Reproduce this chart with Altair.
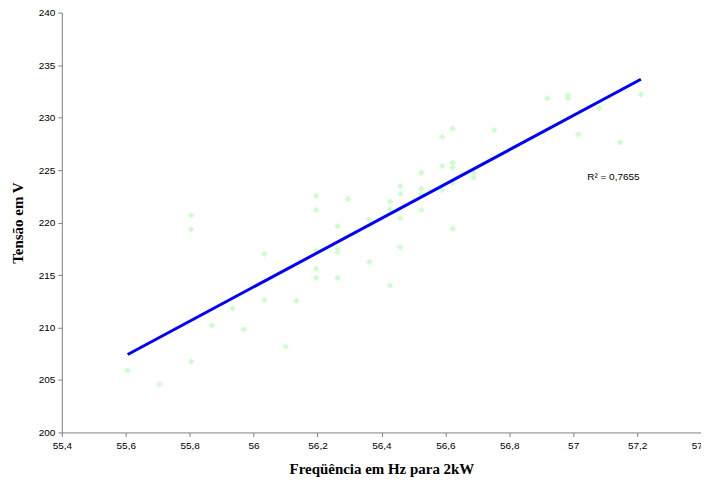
import altair as alt
import pandas as pd

freq = [55.606, 55.706, 55.805, 55.805, 55.805, 55.869, 55.934, 55.969, 56.034, 56.034,
        56.100, 56.134, 56.196, 56.196, 56.196, 56.196, 56.196, 56.263, 56.263, 56.263,
        56.263, 56.296, 56.362, 56.362, 56.427, 56.427, 56.427, 56.459, 56.459, 56.459,
        56.459, 56.525, 56.525, 56.525, 56.525, 56.590, 56.590, 56.590, 56.623, 56.623,
        56.623, 56.623, 56.623, 56.689, 56.689, 56.753, 56.919, 56.984, 56.984, 57.016,
        57.081, 57.147, 57.212]
volt = [205.9, 204.6, 220.7, 219.35, 206.75, 210.2, 211.8, 209.8, 217.0, 212.65,
        208.2, 212.55, 222.55, 221.2, 217.3, 215.6, 214.75, 219.65, 217.45, 217.15,
        214.75, 222.25, 220.3, 216.25, 214.0, 222.0, 221.3, 223.45, 222.75, 220.4,
        217.65, 224.75, 223.2, 222.7, 221.2, 225.4, 223.1, 228.15, 225.7, 225.25,
        223.8, 219.4, 228.95, 224.75, 224.3, 228.8, 231.85, 232.1, 231.85, 228.4,
        230.9, 227.65, 232.2]

x_ticks = [55.4, 55.6, 55.8, 56.0, 56.2, 56.4, 56.6, 56.8, 57.0, 57.2, 57.4]
y_ticks = [200, 205, 210, 215, 220, 225, 230, 235, 240]

r2_label = ["R\u00b2 = 0,7655"]
r2_x = [57.044]
r2_y = [224.3]

df = pd.DataFrame({"freq": freq, "volt": volt})
df_txt = pd.DataFrame({"label": r2_label, "freq": r2_x, "volt": r2_y})

xs = alt.Scale(domain=[55.4, 57.4], nice=False, zero=False)
ys = alt.Scale(domain=[200, 240], nice=False, zero=False)

x_axis = alt.Axis(
    values=x_ticks,
    labelExpr="replace(format(datum.value, '~g'), '.', ',')",
    title="Freqüência em Hz para 2kW",
    grid=False,
    domainColor="#808080", tickColor="#808080", tickSize=4,
    labelFont="Liberation Sans", labelFontSize=10, labelColor="#000000",
    labelPadding=4, labelFlush=False, labelOverlap=False,
    titleFont="Liberation Serif", titleFontSize=15, titleFontWeight="bold",
    titleColor="#000000", titlePadding=11,
)
y_axis = alt.Axis(
    values=y_ticks,
    title="Tensão em V",
    grid=False,
    domainColor="#808080", tickColor="#808080", tickSize=4,
    labelFont="Liberation Sans", labelFontSize=10, labelColor="#000000",
    labelPadding=3, labelFlush=False, labelOverlap=False,
    titleFont="Liberation Serif", titleFontSize=15, titleFontWeight="bold",
    titleColor="#000000", titlePadding=13,
)

points = alt.Chart(df).mark_point(
    shape="diamond", filled=True, color="#ccffcc", size=42, opacity=1
).encode(
    x=alt.X("freq:Q", scale=xs, axis=x_axis),
    y=alt.Y("volt:Q", scale=ys, axis=y_axis),
)

trend = alt.Chart(df).transform_regression("freq", "volt").mark_line(
    color="#0000ff", strokeWidth=3
).encode(
    x=alt.X("freq:Q", scale=xs),
    y=alt.Y("volt:Q", scale=ys),
)

text = alt.Chart(df_txt).mark_text(
    align="left", baseline="middle", font="Liberation Sans", fontSize=10, color="#000000"
).encode(
    x=alt.X("freq:Q", scale=xs),
    y=alt.Y("volt:Q", scale=ys),
    text="label:N",
)

chart = alt.layer(points, trend, text).properties(
    width=641, height=421,
    autosize=alt.AutoSizeParams(type="none"),
    padding={"left": 54, "top": 4, "right": 0, "bottom": 44},
    background="#ffffff",
).configure_view(stroke=None)

chart.save("out.html", embed_options={"renderer": "svg", "actions": False})
